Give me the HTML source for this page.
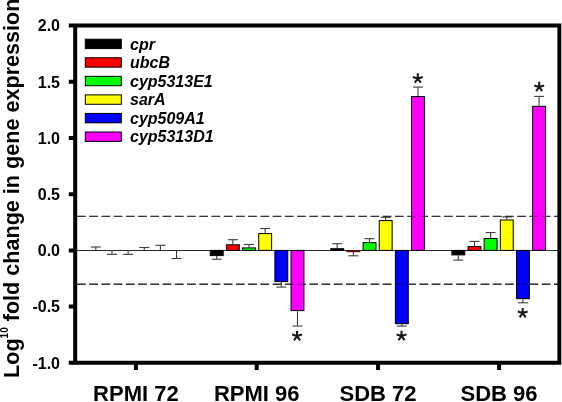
<!DOCTYPE html>
<html><head><meta charset="utf-8"><style>
html,body{margin:0;padding:0;background:#fff;}
body{width:562px;height:402px;overflow:hidden;position:relative;font-family:"Liberation Sans",sans-serif;}
svg{position:absolute;left:0;top:0;}
.t{filter:grayscale(1);}
</style></head><body>
<svg width="562" height="402" viewBox="0 0 562 402">
<g font-family="Liberation Sans, sans-serif">
<!-- zero line -->
<line x1="77" y1="250.4" x2="558" y2="250.4" stroke="#2a2a2a" stroke-width="1.05"/>
<!-- dashed lines -->
<g stroke="#555" stroke-width="1.4" stroke-dasharray="8.7 3.53">
<line x1="77" y1="216.4" x2="558" y2="216.4"/>
<line x1="77" y1="284.2" x2="558" y2="284.2"/>
</g>
<!-- error bars -->
<g stroke="#3c3c3c" stroke-width="1.1">
<line x1="95.82" y1="250.4" x2="95.82" y2="247"/>
<line x1="90.82" y1="247" x2="100.82" y2="247"/>
<line x1="111.97" y1="250.4" x2="111.97" y2="254.4"/>
<line x1="106.97" y1="254.4" x2="116.97" y2="254.4"/>
<line x1="128.12" y1="250.4" x2="128.12" y2="254.4"/>
<line x1="123.12" y1="254.4" x2="133.12" y2="254.4"/>
<line x1="144.27" y1="250.4" x2="144.27" y2="247.5"/>
<line x1="139.27" y1="247.5" x2="149.27" y2="247.5"/>
<line x1="160.42" y1="250.4" x2="160.42" y2="245.3"/>
<line x1="155.42" y1="245.3" x2="165.42" y2="245.3"/>
<line x1="176.57" y1="250.4" x2="176.57" y2="258.5"/>
<line x1="171.57" y1="258.5" x2="181.57" y2="258.5"/>
<line x1="216.73" y1="256.1" x2="216.73" y2="259.2"/>
<line x1="211.73" y1="259.2" x2="221.73" y2="259.2"/>
<line x1="232.88" y1="244.3" x2="232.88" y2="239.7"/>
<line x1="227.88" y1="239.7" x2="237.88" y2="239.7"/>
<line x1="249.03" y1="247.4" x2="249.03" y2="244.5"/>
<line x1="244.03" y1="244.5" x2="254.03" y2="244.5"/>
<line x1="265.18" y1="233.1" x2="265.18" y2="228.5"/>
<line x1="260.18" y1="228.5" x2="270.18" y2="228.5"/>
<line x1="281.33" y1="282.1" x2="281.33" y2="287.1"/>
<line x1="276.33" y1="287.1" x2="286.33" y2="287.1"/>
<line x1="297.48" y1="311.1" x2="297.48" y2="326"/>
<line x1="292.48" y1="326" x2="302.48" y2="326"/>
<line x1="337.23" y1="248.2" x2="337.23" y2="243.7"/>
<line x1="332.23" y1="243.7" x2="342.23" y2="243.7"/>
<line x1="353.38" y1="251.9" x2="353.38" y2="255.8"/>
<line x1="348.38" y1="255.8" x2="358.38" y2="255.8"/>
<line x1="369.53" y1="242.1" x2="369.53" y2="238.7"/>
<line x1="364.53" y1="238.7" x2="374.53" y2="238.7"/>
<line x1="385.68" y1="220.1" x2="385.68" y2="217.3"/>
<line x1="380.68" y1="217.3" x2="390.68" y2="217.3"/>
<line x1="401.83" y1="324.2" x2="401.83" y2="326.1"/>
<line x1="396.83" y1="326.1" x2="406.83" y2="326.1"/>
<line x1="417.98" y1="96" x2="417.98" y2="87.1"/>
<line x1="412.98" y1="87.1" x2="422.98" y2="87.1"/>
<line x1="458.32" y1="255.4" x2="458.32" y2="260.1"/>
<line x1="453.32" y1="260.1" x2="463.32" y2="260.1"/>
<line x1="474.47" y1="246.1" x2="474.47" y2="241.4"/>
<line x1="469.47" y1="241.4" x2="479.47" y2="241.4"/>
<line x1="490.62" y1="238" x2="490.62" y2="232.6"/>
<line x1="485.62" y1="232.6" x2="495.62" y2="232.6"/>
<line x1="506.77" y1="219.5" x2="506.77" y2="216.9"/>
<line x1="501.77" y1="216.9" x2="511.77" y2="216.9"/>
<line x1="522.92" y1="299.2" x2="522.92" y2="302.8"/>
<line x1="517.92" y1="302.8" x2="527.92" y2="302.8"/>
<line x1="539.08" y1="105.8" x2="539.08" y2="96.4"/>
<line x1="534.08" y1="96.4" x2="544.08" y2="96.4"/>
</g>
<!-- bars -->
<g stroke="#000" stroke-width="1">
<rect x="210.28" y="250.4" width="12.9" height="5.2" fill="#000000"/>
<rect x="226.43" y="244.8" width="12.9" height="5.6" fill="#ff0000"/>
<rect x="242.58" y="247.9" width="12.9" height="2.5" fill="#00ff00"/>
<rect x="258.73" y="233.6" width="12.9" height="16.8" fill="#ffff00"/>
<rect x="274.88" y="250.4" width="12.9" height="31.2" fill="#0000ff"/>
<rect x="291.03" y="250.4" width="12.9" height="60.2" fill="#ff00ff"/>
<rect x="330.78" y="248.7" width="12.9" height="1.7" fill="#000000"/>
<rect x="346.43" y="250.4" width="13.9" height="1.8" fill="#6a0a0a" stroke="none"/>
<rect x="363.08" y="242.6" width="12.9" height="7.8" fill="#00ff00"/>
<rect x="379.23" y="220.6" width="12.9" height="29.8" fill="#ffff00"/>
<rect x="395.38" y="250.4" width="12.9" height="73.3" fill="#0000ff"/>
<rect x="411.53" y="96.5" width="12.9" height="153.9" fill="#ff00ff"/>
<rect x="451.88" y="250.4" width="12.9" height="4.5" fill="#000000"/>
<rect x="468.02" y="246.6" width="12.9" height="3.8" fill="#ff0000"/>
<rect x="484.18" y="238.5" width="12.9" height="11.9" fill="#00ff00"/>
<rect x="500.32" y="220" width="12.9" height="30.4" fill="#ffff00"/>
<rect x="516.47" y="250.4" width="12.9" height="48.3" fill="#0000ff"/>
<rect x="532.62" y="106.3" width="12.9" height="144.1" fill="#ff00ff"/>
</g>

<!-- dashed lines -->
<g stroke="#000" stroke-opacity="0.35" stroke-width="1.4" stroke-dasharray="8.7 3.53">
<line x1="77" y1="216.4" x2="558" y2="216.4"/>
<line x1="77" y1="284.2" x2="558" y2="284.2"/>
</g>
<!-- frame -->
<path d="M73.2 23.5H561.3V364.8H73.2Z M77.2 27.5V360.8H557.4V27.5Z M68.8 23.5H73.2V27.5H68.8Z M68.8 79.72H73.2V83.72H68.8Z M68.8 135.94H73.2V139.94H68.8Z M68.8 192.16H73.2V196.16H68.8Z M68.8 248.38H73.2V252.38H68.8Z M68.8 304.6H73.2V308.6H68.8Z M68.8 360.82H73.2V364.82H68.8Z M133.9 364.8H137.9V370H133.9Z M254.7 364.8H258.7V370H254.7Z M376.05 364.8H380.05V370H376.05Z M497.1 364.8H501.1V370H497.1Z" fill="#000" fill-rule="nonzero"/>
<g font-size="16" font-weight="bold" text-anchor="end" fill="#000" class="t">
<text x="60" y="31.3">2.0</text>
<text x="60" y="87.52">1.5</text>
<text x="60" y="143.74">1.0</text>
<text x="60" y="199.96">0.5</text>
<text x="60" y="256.18">0.0</text>
<text x="60" y="312.4">-0.5</text>
<text x="60" y="368.62">-1.0</text>
</g>
<g font-size="22" font-weight="bold" text-anchor="middle" fill="#000" class="t">
<text x="135.9" y="401.3">RPMI 72</text>
<text x="256.7" y="401.3">RPMI 96</text>
<text x="378.05" y="401.3">SDB 72</text>
<text x="499.1" y="401.3">SDB 96</text>
</g>
<text class="t" transform="translate(19.3,378) rotate(-90)" font-size="21.6" font-weight="bold" fill="#000">Log<tspan font-size="10" dy="-11">10</tspan><tspan dy="11"> fold change in gene expression</tspan></text>
<rect x="85.3" y="39.2" width="36" height="9.4" fill="#000000" stroke="#000" stroke-width="1"/>
<text x="130" y="49.6" font-size="16" font-weight="bold" font-style="italic" fill="#000" class="t">cpr</text>
<rect x="85.3" y="57.76" width="36" height="9.4" fill="#ff0000" stroke="#000" stroke-width="1"/>
<text x="130" y="68.16" font-size="16" font-weight="bold" font-style="italic" fill="#000" class="t">ubcB</text>
<rect x="85.3" y="76.32" width="36" height="9.4" fill="#00ff00" stroke="#000" stroke-width="1"/>
<text x="130" y="86.72" font-size="16" font-weight="bold" font-style="italic" fill="#000" class="t">cyp5313E1</text>
<rect x="85.3" y="94.88" width="36" height="9.4" fill="#ffff00" stroke="#000" stroke-width="1"/>
<text x="130" y="105.28" font-size="16" font-weight="bold" font-style="italic" fill="#000" class="t">sarA</text>
<rect x="85.3" y="113.44" width="36" height="9.4" fill="#0000ff" stroke="#000" stroke-width="1"/>
<text x="130" y="123.84" font-size="16" font-weight="bold" font-style="italic" fill="#000" class="t">cyp509A1</text>
<rect x="85.3" y="132" width="36" height="9.4" fill="#ff00ff" stroke="#000" stroke-width="1"/>
<text x="130" y="142.4" font-size="16" font-weight="bold" font-style="italic" fill="#000" class="t">cyp5313D1</text>
<path d="M297.05 336.1L297.05 330.9M297.05 336.1L302 334.49M297.05 336.1L300.11 340.31M297.05 336.1L293.99 340.31M297.05 336.1L292.1 334.49" stroke="#1a1a1a" stroke-width="2.1" fill="none"/>
<path d="M417.8 78.5L417.8 73.3M417.8 78.5L422.75 76.89M417.8 78.5L420.86 82.71M417.8 78.5L414.74 82.71M417.8 78.5L412.85 76.89" stroke="#1a1a1a" stroke-width="2.1" fill="none"/>
<path d="M401.5 336L401.5 330.8M401.5 336L406.45 334.39M401.5 336L404.56 340.21M401.5 336L398.44 340.21M401.5 336L396.55 334.39" stroke="#1a1a1a" stroke-width="2.1" fill="none"/>
<path d="M539.2 87L539.2 81.8M539.2 87L544.15 85.39M539.2 87L542.26 91.21M539.2 87L536.14 91.21M539.2 87L534.25 85.39" stroke="#1a1a1a" stroke-width="2.1" fill="none"/>
<path d="M522.7 313.1L522.7 307.9M522.7 313.1L527.65 311.49M522.7 313.1L525.76 317.31M522.7 313.1L519.64 317.31M522.7 313.1L517.75 311.49" stroke="#1a1a1a" stroke-width="2.1" fill="none"/>
</g></svg>
</body></html>
